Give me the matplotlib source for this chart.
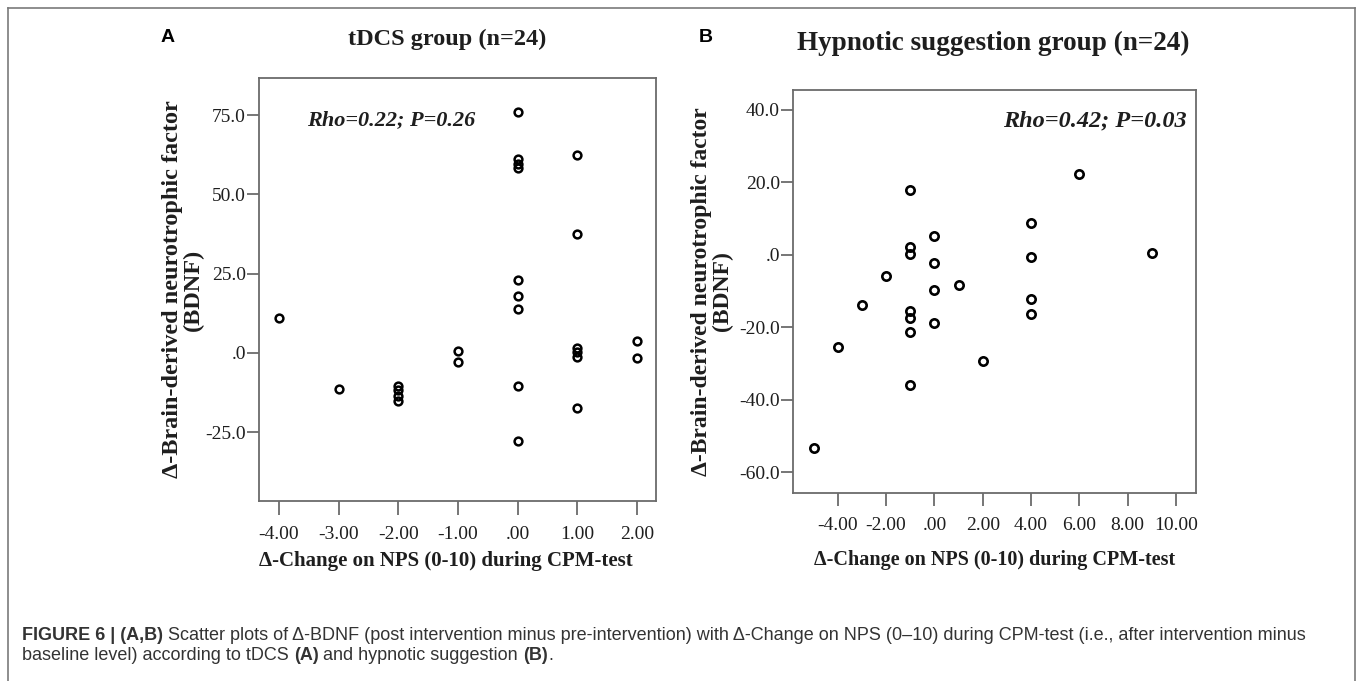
import matplotlib
matplotlib.use("Agg")
import matplotlib.pyplot as plt
from matplotlib.lines import Line2D

#----------------------------------------------------------------------------#
# data

# panel A: tDCS group
tdcsNps = [-4, -3, -2, -2, -2, -2, -1, -1,
           0, 0, 0, 0, 0, 0, 0, 0, 0,
           1, 1, 1, 1, 1, 1, 2, 2]
tdcsBdnf = [11.1, -11.4, -10.5, -11.8, -13.5, -15.3, 0.5, -2.8,
            75.8, 61.0, 59.5, 58.2, 23.1, 17.9, 13.7, -10.4, -27.8,
            62.5, 37.6, 1.5, 0.3, -1.2, -17.3, 3.7, -1.5]

# panel B: hypnotic suggestion group
hypNps = [-5, -4, -3, -2, -1, -1, -1, -1, -1, -1, -1,
          0, 0, 0, 0, 1, 2, 4, 4, 4, 4, 6, 9]
hypBdnf = [-53.4, -25.4, -13.8, -5.8, 17.9, 2.3, 0.1, -15.5, -17.4, -21.2, -35.8,
           5.1, -2.2, -9.6, -18.8, -8.4, -29.2, 8.9, -0.5, -12.3, -16.4, 22.3, 0.5]

tdcsXticks = [-4, -3, -2, -1, 0, 1, 2]
tdcsXlabels = ["-4.00", "-3.00", "-2.00", "-1.00", ".00", "1.00", "2.00"]
tdcsYticks = [75, 50, 25, 0, -25]
tdcsYlabels = ["75.0", "50.0", "25.0", ".0", "-25.0"]

hypXticks = [-4, -2, 0, 2, 4, 6, 8, 10]
hypXlabels = ["-4.00", "-2.00", ".00", "2.00", "4.00", "6.00", "8.00", "10.00"]
hypYticks = [40, 20, 0, -20, -40, -60]
hypYlabels = ["40.0", "20.0", ".0", "-20.0", "-40.0", "-60.0"]

titles = ["tDCS group (n=24)", "Hypnotic suggestion group (n=24)"]
stats = ["Rho=0.22; P=0.26", "Rho=0.42; P=0.03"]
yLabel = "\u0394-Brain-derived neurotrophic factor\n(BDNF)"
xLabel = "\u0394-Change on NPS (0-10) during CPM-test"

#----------------------------------------------------------------------------#

SERIF = "Liberation Serif"
SANS = "Liberation Sans"
SPINE = "#6b6b6b"
INK = "#1e1e1e"

W, H = 1357, 681
fig = plt.figure(figsize=(W / 100, H / 100), dpi=100)


def px(x0, y0, x1, y1):
    """ pixel box (top-left origin) -> figure fraction rect """
    return [x0 / W, 1 - y1 / H, (x1 - x0) / W, (y1 - y0) / H]


def stylePanel(ax, xt, xl, yt, yl, xtickLen, xpad):
    for s in ax.spines.values():
        s.set_color(SPINE)
        s.set_linewidth(1.3)
    ax.set_xticks(xt)
    ax.set_xticklabels(xl)
    ax.set_yticks(yt)
    ax.set_yticklabels(yl)
    ax.tick_params(axis="x", direction="out", length=xtickLen, width=1.3,
                   color=SPINE, pad=xpad, labelsize=14, labelcolor=INK)
    ax.tick_params(axis="y", direction="out", length=9, width=1.3,
                   color=SPINE, pad=0.5, labelsize=14, labelcolor=INK)
    for lab in ax.get_xticklabels() + ax.get_yticklabels():
        lab.set_fontfamily(SERIF)


# panel A
axA = fig.add_axes(px(259.3, 77.9, 655.5, 501.0))
axA.plot(tdcsNps, tdcsBdnf, "o", mfc="none", mec="black", ms=5.6, mew=1.8)
axA.set_xlim(-4.33, 2.31)
axA.set_ylim(-46.7, 86.7)
stylePanel(axA, tdcsXticks, tdcsXlabels, tdcsYticks, tdcsYlabels, 10, 8)
axA.text(0.12, 0.90, stats[0], transform=axA.transAxes, fontsize=16,
         fontweight="bold", fontstyle="italic", family=SERIF, color=INK,
         ha="left", va="center")
axA.set_ylabel(yLabel, fontsize=17.5, fontweight="bold", family=SERIF,
               color=INK, linespacing=1.0)
axA.yaxis.set_label_coords(-0.14, 0.5)
axA.set_xlabel(xLabel, fontsize=15, fontweight="bold", family=SERIF, color=INK)
axA.xaxis.set_label_coords(0.472, -0.118)

# panel B
axB = fig.add_axes(px(793.3, 90.0, 1196.0, 492.9))
axB.plot(hypNps, hypBdnf, "o", mfc="none", mec="black", ms=6.0, mew=1.9)
axB.set_xlim(-5.84, 10.83)
axB.set_ylim(-65.7, 45.5)
stylePanel(axB, hypXticks, hypXlabels, hypYticks, hypYlabels, 9, 8)
axB.text(0.978, 0.923, stats[1], transform=axB.transAxes, fontsize=17.5,
         fontweight="bold", fontstyle="italic", family=SERIF, color=INK,
         ha="right", va="center")
axB.set_ylabel(yLabel, fontsize=17, fontweight="bold", family=SERIF,
               color=INK, linespacing=1.0)
axB.yaxis.set_label_coords(-0.15, 0.5)
axB.set_xlabel(xLabel, fontsize=14.5, fontweight="bold", family=SERIF, color=INK)
axB.xaxis.set_label_coords(0.501, -0.142)

# titles and panel letters
fig.text(447.5 / W, 1 - 39 / H, titles[0], fontsize=17.5, fontweight="bold",
         family=SERIF, color=INK, ha="center", va="center")
fig.text(993 / W, 1 - 43 / H, titles[1], fontsize=19.5, fontweight="bold",
         family=SERIF, color=INK, ha="center", va="center")
fig.text(168 / W, 1 - 37 / H, "A", fontsize=14, fontweight="bold",
         family=SANS, color="black", ha="center", va="center")
fig.text(706 / W, 1 - 37 / H, "B", fontsize=14, fontweight="bold",
         family=SANS, color="black", ha="center", va="center")

# border round the figure panel (left, top, right)
frame = dict(color="#7a7a7a", lw=1.2, transform=fig.transFigure)
fig.add_artist(Line2D([8.3 / W, 8.3 / W], [0, 1 - 8.3 / H], **frame))
fig.add_artist(Line2D([8.3 / W, 1355 / W], [1 - 8.3 / H, 1 - 8.3 / H], **frame))
fig.add_artist(Line2D([1355 / W, 1355 / W], [0, 1 - 8.3 / H], **frame))

# caption, pieces chained so bold and regular runs sit on one line
CAP = "#333333"
capSize = 13
line1 = [("FIGURE 6 | (A,B)", "bold"),
         (" Scatter plots of \u0394-BDNF (post intervention minus pre-intervention) "
          "with \u0394-Change on NPS (0\u201310) during CPM-test (i.e., after "
          "intervention minus", "normal")]
line2 = [("baseline level) according to tDCS ", "normal"), ("(A)", "bold"),
         (" and hypnotic suggestion ", "normal"), ("(B)", "bold"), (".", "normal")]


def caption(pieces, yPix):
    prev = None
    for txt, wt in pieces:
        if prev is None:
            prev = fig.text(22 / W, 1 - yPix / H, txt, fontsize=capSize,
                            fontweight=wt, family=SANS, color=CAP,
                            ha="left", va="center")
        else:
            prev = fig.add_artist(plt.Annotation(
                txt, xy=(1, 0), xycoords=prev, fontsize=capSize,
                fontweight=wt, family=SANS, color=CAP,
                ha="left", va="bottom"))


caption(line1, 636)
caption(line2, 656)

fig.savefig("out.png", dpi=100)
